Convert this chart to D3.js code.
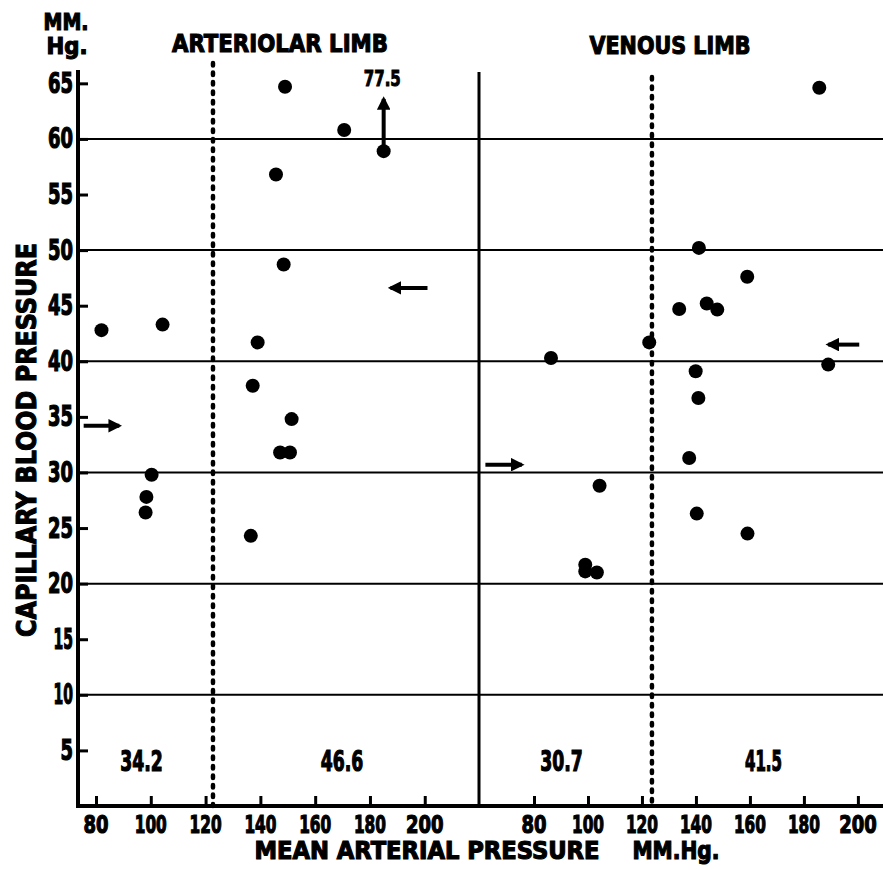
<!DOCTYPE html>
<meta charset="utf-8">
<script src="https://d3js.org/d3.v7.min.js"></script>
<style>
  body { margin: 0; background: #fff; }
  text { font-family: "DejaVu Sans Condensed", "Liberation Sans Narrow", "DejaVu Sans", sans-serif; font-stretch: condensed; font-weight: bold; fill: #000; }
</style>
<div id="chart"></div>
<script>
// tick values
var yTicks = [5, 10, 15, 20, 25, 30, 35, 40, 45, 50, 55, 60, 65];
var gridValues = [10, 20, 30, 40, 50, 60];
var xTicks = [80, 100, 120, 140, 160, 180, 200];

// arteriolar limb: mean arterial pressure vs capillary pressure
var artX = [149, 170.6, 185, 145.7, 148.5, 82, 104.3, 139, 137.2, 151.4, 147.2, 150.8, 100.3, 98.4, 98.1, 136.5];
var artY = [64.7, 60.8, 58.9, 56.8, 48.7, 42.8, 43.3, 41.7, 37.8, 34.8, 31.8, 31.8, 29.8, 27.8, 26.4, 24.3];

// venous limb
var venX = [185.7, 141.1, 159, 133.8, 144, 147.9, 122.7, 86.3, 189, 139.9, 140.9, 137.5, 104.3, 140.3, 159.1, 99, 99, 103.3];
var venY = [64.6, 50.2, 47.6, 44.7, 45.2, 44.65, 41.7, 40.3, 39.7, 39.1, 36.7, 31.3, 28.8, 26.3, 24.5, 21.7, 21.1, 21.0];

// pressure where each limb is split, and group means
var artSplit = 122.7, venSplit = 123.7;
var artMeans = [34.2, 46.6];
var venMeans = [30.7, 41.5];
// mean arrows: [from x, to x]
var artArrows = [[75.5, 88.5], [201, 187.5]];
var venArrows = [[62, 75.5], [200.5, 189]];

// off scale point (plotted at 59 with arrow)
var offScaleLabel = "77.5";

var W = 883, H = 870;
var plotLeft = 78, plotMid = 479, plotRight = 883, plotBottom = 806, plotTop = 70;

var svg = d3.select("#chart").append("svg")
  .attr("width", W).attr("height", H);

var y = d3.scaleLinear().domain([0, 66.2]).range([plotBottom, plotTop]);
var xL = d3.scaleLinear().domain([73.43, 219.8]).range([plotLeft, plotMid]);
var xR = d3.scaleLinear().domain([59.63, 209.3]).range([plotMid, plotRight]);

// width for digits, the "1" is narrow in the original lettering
function numWidth(s) {
  s = String(s);
  var w = 0;
  for (var i = 0; i < s.length; i++) w += s[i] == "1" ? 7 : (s[i] == "." ? 5 : 12.5);
  return w;
}

// grid lines
svg.append("g").selectAll("line").data(gridValues).join("line")
  .attr("x1", plotLeft).attr("x2", plotRight)
  .attr("y1", function(d) { return y(d); }).attr("y2", function(d) { return y(d); })
  .attr("stroke", "#000").attr("stroke-width", 2);

// y axis
var yAxis = svg.append("g")
  .attr("transform", "translate(" + plotLeft + ",0)")
  .call(d3.axisRight(y).tickValues(yTicks).tickSize(10).tickFormat(""));
yAxis.select(".domain").remove();
yAxis.selectAll(".tick line").attr("stroke-width", 3);
svg.append("g").selectAll("text").data(yTicks).join("text")
  .attr("x", 73).attr("y", function(d) { return y(d); })
  .attr("text-anchor", "end").attr("dominant-baseline", "central")
  .style("font-size", "28px").attr("stroke", "#000").attr("stroke-width", 1.2)
  .attr("textLength", numWidth).attr("lengthAdjust", "spacingAndGlyphs")
  .text(function(d) { return d; });

// x axes, one per limb
[xL, xR].forEach(function(sc) {
  var g = svg.append("g")
    .attr("transform", "translate(0," + plotBottom + ")")
    .call(d3.axisTop(sc).tickValues(xTicks).tickSize(10).tickFormat(""));
  g.select(".domain").remove();
  g.selectAll(".tick line").attr("stroke-width", 3);
  svg.append("g").selectAll("text").data(xTicks).join("text")
    .attr("x", function(d) { return sc(d); }).attr("y", 824)
    .attr("text-anchor", "middle").attr("dominant-baseline", "central")
    .style("font-size", "25px").attr("stroke", "#000").attr("stroke-width", 1.2)
    .attr("textLength", numWidth).attr("lengthAdjust", "spacingAndGlyphs")
    .text(function(d) { return d; });
});

// frame lines
svg.append("line").attr("x1", plotLeft).attr("x2", plotLeft).attr("y1", plotTop).attr("y2", plotBottom + 2)
  .attr("stroke", "#000").attr("stroke-width", 4);
svg.append("line").attr("x1", plotLeft - 2).attr("x2", plotRight).attr("y1", plotBottom).attr("y2", plotBottom)
  .attr("stroke", "#000").attr("stroke-width", 4);
svg.append("line").attr("x1", plotMid).attr("x2", plotMid).attr("y1", 72).attr("y2", plotBottom)
  .attr("stroke", "#000").attr("stroke-width", 3);

// split lines (dashed)
svg.append("line").attr("x1", xL(artSplit)).attr("x2", xL(artSplit)).attr("y1", 63).attr("y2", plotBottom)
  .attr("stroke", "#000").attr("stroke-width", 4.5).attr("stroke-dasharray", "2.5,7").attr("stroke-linecap", "round");
svg.append("line").attr("x1", xR(venSplit)).attr("x2", xR(venSplit)).attr("y1", 77).attr("y2", plotBottom)
  .attr("stroke", "#000").attr("stroke-width", 4.5).attr("stroke-dasharray", "2.5,7").attr("stroke-linecap", "round");

// points
function dots(sc, xs, ys) {
  svg.append("g").selectAll("circle").data(xs).join("circle")
    .attr("cx", function(d) { return sc(d); })
    .attr("cy", function(d, i) { return y(ys[i]); })
    .attr("r", 7).attr("fill", "#000");
}
dots(xL, artX, artY);
dots(xR, venX, venY);

// arrows
svg.append("defs").append("marker")
  .attr("id", "head").attr("viewBox", "0 0 10 10").attr("refX", 8).attr("refY", 5)
  .attr("markerWidth", 3.4).attr("markerHeight", 3.4).attr("orient", "auto")
  .append("path").attr("d", "M0,0L10,5L0,10z").attr("fill", "#000");

function arrow(x1, y1, x2, y2) {
  svg.append("line").attr("x1", x1).attr("y1", y1).attr("x2", x2).attr("y2", y2)
    .attr("stroke", "#000").attr("stroke-width", 4).attr("marker-end", "url(#head)");
}
artArrows.forEach(function(a, i) { arrow(xL(a[0]), y(artMeans[i]), xL(a[1]), y(artMeans[i])); });
venArrows.forEach(function(a, i) { arrow(xR(a[0]), y(venMeans[i]), xR(a[1]), y(venMeans[i])); });

// off scale arrow on the 59 point
arrow(xL(185), y(58.9), xL(185), y(63.6));
svg.append("text").attr("x", xL(184.5)).attr("y", y(65.4))
  .attr("text-anchor", "middle").attr("dominant-baseline", "central")
  .style("font-size", "21px").attr("textLength", 37).attr("lengthAdjust", "spacingAndGlyphs")
  .attr("stroke", "#000").attr("stroke-width", 0.9)
  .text(offScaleLabel);

// mean values, centred in each section
var sections = [
  [plotLeft, xL(artSplit), artMeans[0]],
  [xL(artSplit), plotMid, artMeans[1]],
  [plotMid, xR(venSplit), venMeans[0]],
  [xR(venSplit), plotRight, venMeans[1]]
];
svg.append("g").selectAll("text").data(sections).join("text")
  .attr("x", function(d) { return (d[0] + d[1]) / 2 - 4; })
  .attr("y", y(4))
  .attr("text-anchor", "middle").attr("dominant-baseline", "central")
  .style("font-size", "28px").attr("stroke", "#000").attr("stroke-width", 1.2)
  .attr("textLength", function(d) { return numWidth(d[2]); }).attr("lengthAdjust", "spacingAndGlyphs")
  .text(function(d) { return d[2]; });

// titles
function label(txt, x, yy, size, len, rot) {
  var t = svg.append("text").attr("x", x).attr("y", yy)
    .attr("text-anchor", "middle").attr("dominant-baseline", "central")
    .style("font-size", size + "px").attr("stroke", "#000").attr("stroke-width", 1.1)
    .attr("textLength", len).attr("lengthAdjust", "spacingAndGlyphs")
    .text(txt);
  if (rot) t.attr("transform", "rotate(-90," + x + "," + yy + ")");
  return t;
}
label("ARTERIOLAR LIMB", 280, 43, 25, 216);
label("VENOUS LIMB", 670, 45, 25, 161);
label("MM.", 66, 22, 23, 45);
label("Hg.", 67, 46, 23, 41);
label("MEAN ARTERIAL PRESSURE", 427, 851, 24, 345);
label("MM.Hg.", 676, 851, 24, 87);
label("CAPILLARY BLOOD PRESSURE", 26, 440, 27, 394, true);
</script>
